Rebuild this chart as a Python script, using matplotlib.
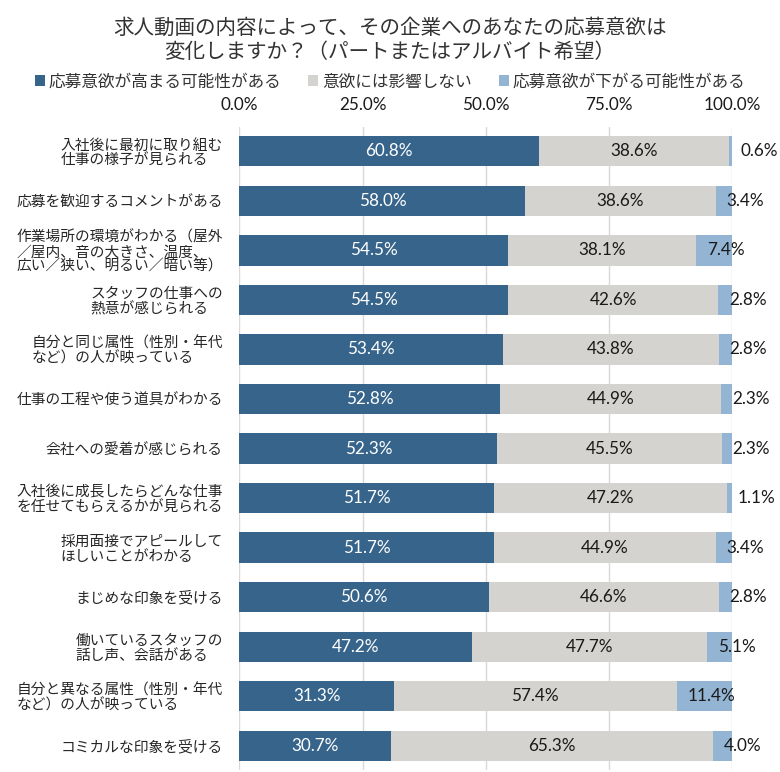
import matplotlib
matplotlib.use("Agg")
import matplotlib.pyplot as plt
import numpy as np

plt.rcParams['font.family'] = ['Noto Sans CJK JP', 'DejaVu Sans']

# data
categories = [
    "入社後に最初に取り組む\n仕事の様子が見られる",
    "応募を歓迎するコメントがある",
    "作業場所の環境がわかる（屋外\n／屋内、音の大きさ、温度、\n広い／狭い、明るい／暗い等）",
    "スタッフの仕事への\n熱意が感じられる",
    "自分と同じ属性（性別・年代\nなど）の人が映っている",
    "仕事の工程や使う道具がわかる",
    "会社への愛着が感じられる",
    "入社後に成長したらどんな仕事\nを任せてもらえるかが見られる",
    "採用面接でアピールして\nほしいことがわかる",
    "まじめな印象を受ける",
    "働いているスタッフの\n話し声、会話がある",
    "自分と異なる属性（性別・年代\nなど）の人が映っている",
    "コミカルな印象を受ける",
]
high = [60.8, 58.0, 54.5, 54.5, 53.4, 52.8, 52.3, 51.7, 51.7, 50.6, 47.2, 31.3, 30.7]
neutral = [38.6, 38.6, 38.1, 42.6, 43.8, 44.9, 45.5, 47.2, 44.9, 46.6, 47.7, 57.4, 65.3]
low = [0.6, 3.4, 7.4, 2.8, 2.8, 2.3, 2.3, 1.1, 3.4, 2.8, 5.1, 11.4, 4.0]
series_names = ["応募意欲が高まる可能性がある", "意欲には影響しない", "応募意欲が下がる可能性がある"]
ticks = [0, 25, 50, 75, 100]

c_high = "#36648b"
c_neu = "#d5d3d0"
c_low = "#93b5d3"
num_font = ['Lato', 'DejaVu Sans']

fig = plt.figure(figsize=(7.8, 7.72), dpi=100)
ax = fig.add_axes([0.307, 0.002, 0.632, 0.834])

y = np.arange(len(categories))
h = 0.61
high = np.array(high)
neutral = np.array(neutral)
low = np.array(low)

b1 = ax.barh(y, high, height=h, color=c_high, label=series_names[0], zorder=2)
b2 = ax.barh(y, neutral, left=high, height=h, color=c_neu, label=series_names[1], zorder=2)
b3 = ax.barh(y, low, left=high + neutral, height=h, color=c_low, label=series_names[2], zorder=2)

fs_num = 12.3
for i in range(len(categories)):
    ax.text(high[i] / 2, y[i], f"{high[i]:.1f}%", ha='center', va='center',
            color='white', fontsize=fs_num, family=num_font, zorder=3)
    ax.text(high[i] + neutral[i] / 2, y[i], f"{neutral[i]:.1f}%", ha='center', va='center',
            color='#1a1a1a', fontsize=fs_num, family=num_font, zorder=3)
    ax.text(high[i] + neutral[i] + 2.2, y[i], f"{low[i]:.1f}%", ha='left', va='center',
            color='#1a1a1a', fontsize=fs_num, family=num_font, zorder=3)

ax.set_xlim(0, 100)
ax.set_ylim(len(categories) - 0.5, -0.5)
ax.set_xticks(ticks)
ax.set_xticklabels([f"{t:.1f}%" for t in ticks], family=num_font, fontsize=fs_num, color='#1a1a1a')
ax.xaxis.tick_top()
ax.tick_params(axis='x', length=0, pad=9.5)
ax.set_yticks(y)
ax.set_yticklabels(categories, fontsize=10.6, color='#262626', linespacing=1.05,
                   multialignment='left')
ax.tick_params(axis='y', length=0, pad=12)
for s in ax.spines.values():
    s.set_visible(False)
ax.grid(axis='x', color='#d9d9d9', lw=1, zorder=0)

fig.text(0.5, 1 - 40 / 772, "求人動画の内容によって、その企業へのあなたの応募意欲は\n変化しますか？（パートまたはアルバイト希望）",
         ha='center', va='center', fontsize=14.8, color='#333333', linespacing=1.15)

fig.legend(handles=[b1, b2, b3], loc='center', bbox_to_anchor=(0.5, 1 - 82 / 772), ncol=3,
           frameon=False, fontsize=12, handlelength=0.6, handleheight=0.6,
           handletextpad=0.25, columnspacing=1.6, labelcolor='#333333')

fig.savefig("out.png", dpi=100)
